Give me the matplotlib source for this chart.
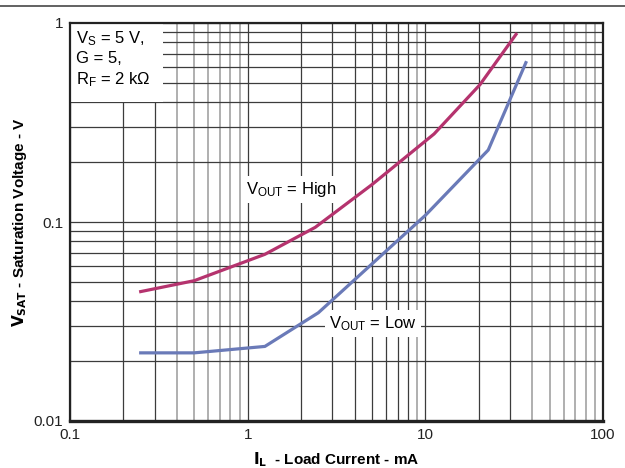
import math
import matplotlib
matplotlib.use("Agg")
import matplotlib.pyplot as plt
from matplotlib.ticker import LogLocator, FixedLocator, FixedFormatter, NullFormatter
from matplotlib.lines import Line2D

# ---- data ----
high_current = [0.25, 0.5, 1.25, 2.4, 5.0, 11.2, 20.3, 32.4]          # mA
high_vsat = [0.0447, 0.0507, 0.0688, 0.094, 0.154, 0.277, 0.49, 0.877]  # V
low_current = [0.25, 0.5, 1.25, 2.5, 5.0, 10.0, 22.6, 36.8]            # mA
low_vsat = [0.022, 0.022, 0.0237, 0.035, 0.0615, 0.108, 0.23, 0.632]   # V

x_ticks = [0.1, 1, 10, 100]
x_tick_labels = ["0.1", "1", "10", "100"]
y_ticks = [0.01, 0.1, 1]
y_tick_labels = ["0.01", "0.1", "1"]

plt.rcParams["font.family"] = ["Liberation Sans", "DejaVu Sans"]
plt.rcParams["mathtext.default"] = "regular"

fig = plt.figure(figsize=(6.25, 4.68), dpi=100)
ax = fig.add_axes([70 / 625, 47 / 468, 533 / 625, 398 / 468])

ax.set_xscale("log")
ax.set_yscale("log")
ax.set_xlim(0.1, 100)
ax.set_ylim(0.01, 1)

ax.xaxis.set_major_locator(FixedLocator(x_ticks))
ax.xaxis.set_major_formatter(FixedFormatter(x_tick_labels))
ax.yaxis.set_major_locator(FixedLocator(y_ticks))
ax.yaxis.set_major_formatter(FixedFormatter(y_tick_labels))
ax.xaxis.set_minor_locator(LogLocator(base=10, subs=range(2, 10)))
ax.yaxis.set_minor_locator(LogLocator(base=10, subs=range(2, 10)))
ax.xaxis.set_minor_formatter(NullFormatter())
ax.yaxis.set_minor_formatter(NullFormatter())

ax.grid(True, which="both", color="#3c3c3c", linewidth=0.9)
ax.set_axisbelow(True)
ax.tick_params(which="both", length=0, labelsize=11, pad=5, colors="#222222")

# some vertical minor grid lines are lighter grey in the reference
for loc, tick in zip(ax.xaxis.get_minorticklocs(), ax.xaxis.get_minor_ticks()):
    dec = math.floor(math.log10(loc) + 1e-9)
    m = round(loc / 10 ** dec)
    if (dec in (-1, 1) and m >= 4) or (dec == 0 and m == 9):
        tick.gridline.set_color("#9a9a9a")
        tick.gridline.set_linewidth(1.1)

for s in ax.spines.values():
    s.set_linewidth(1.6)
    s.set_color("#222222")
ax.spines["bottom"].set_linewidth(2.4)

ax.plot(high_current, high_vsat, color="#B5336E", linewidth=2.3, zorder=3)
ax.plot(low_current, low_vsat, color="#6A7AB8", linewidth=2.3, zorder=3)

ax.set_xlabel(r"$\mathbf{I_L}$  - Load Current - mA", fontsize=11, fontweight="bold", labelpad=6)
ax.set_ylabel(r"$\mathbf{V_{SAT}}$ - Saturation Voltage - V", fontsize=11, fontweight="bold", labelpad=3)

box = dict(facecolor="white", edgecolor="none", pad=3)
ax.text(0.108, 0.935, "$V_S$ = 5 V,\nG = 5,\n$R_F$ = 2 k\u03a9", fontsize=12,
        va="top", ha="left", linespacing=1.3, zorder=2.2,
        bbox=dict(facecolor="white", edgecolor="none", pad=9))
ax.text(0.975, 0.146, "$V_{OUT}$ = High", fontsize=12, va="center", ha="left", bbox=box, zorder=2.2)
ax.text(2.88, 0.031, "$V_{OUT}$ = Low", fontsize=12, va="center", ha="left", bbox=box, zorder=2.2)

fig.add_artist(Line2D([0, 1], [1 - 5.5 / 468, 1 - 5.5 / 468], color="#555555", linewidth=1.3))

fig.savefig("out.png", dpi=100, facecolor="white")
